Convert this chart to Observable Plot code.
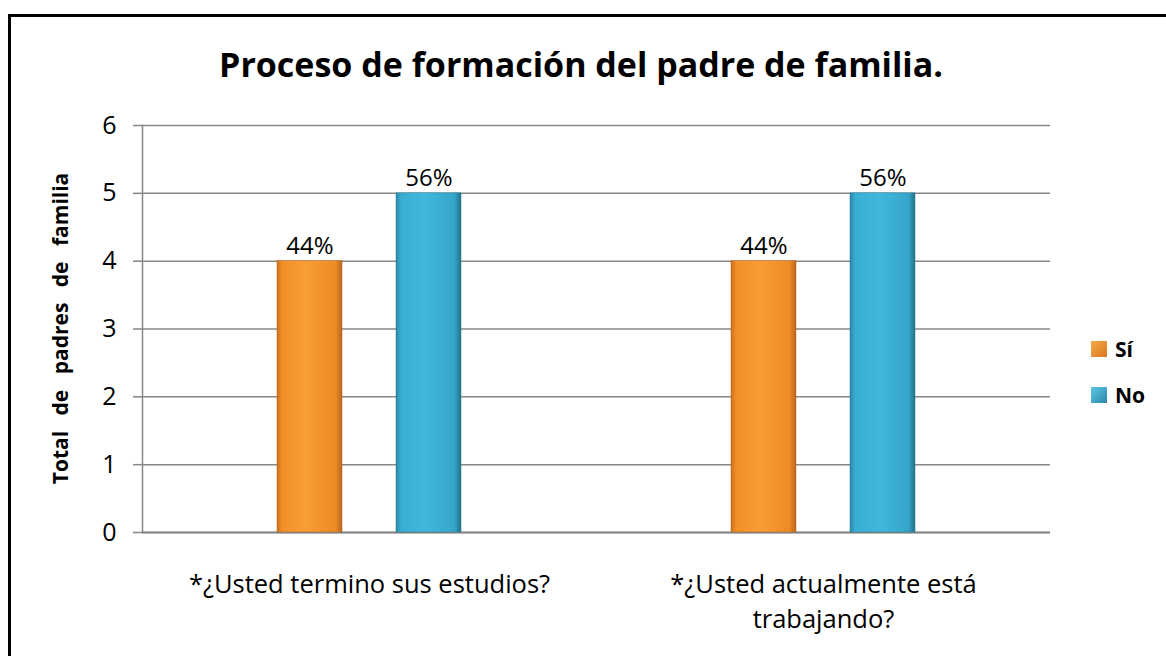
<!DOCTYPE html>
<html>
<head>
<meta charset="utf-8">
<script src="https://cdn.jsdelivr.net/npm/d3@7"></script>
<script src="https://cdn.jsdelivr.net/npm/@observablehq/plot@0.6"></script>
<style>
  html, body { margin: 0; padding: 0; background: #fff; overflow: hidden; }
  body { width: 1166px; height: 656px; position: relative; font-family: "Open Sans", sans-serif; }
  #frame { position: absolute; left: 8px; top: 14px; width: 1200px; height: 700px; border: 3px solid #000; box-sizing: border-box; }
  #title { position: absolute; left: 0; width: 1162px; top: 41px; text-align: center; font-weight: bold; font-size: 34px; color: #000; line-height: normal; white-space: nowrap; }
  #chart { position: absolute; left: 0; top: 100px; }
  #legend { position: absolute; left: 1091px; top: 338px; font-weight: bold; font-size: 21px; color: #000; }
  .li { display: flex; align-items: center; height: 22px; margin-bottom: 24px; }
  .sw { width: 16px; height: 16px; margin-right: 8px; }
</style>
</head>
<body>
<div id="frame"></div>
<div id="title">Proceso de formación del padre de familia.</div>
<div id="chart"></div>
<div id="legend"></div>
<script>
const categories = ["*¿Usted termino sus estudios?", "*¿Usted actualmente está\ntrabajando?"];
const seriesNames = ["Sí", "No"];
const siValues = [4, 4];
const noValues = [5, 5];
const siLabels = ["44%", "44%"];
const noLabels = ["56%", "56%"];
const yTicks = [0, 1, 2, 3, 4, 5, 6];
const yTitle = "Total de padres de familia";
const seriesFills = {"Sí": "url(#gradO)", "No": "url(#gradB)"};

const data = [];
categories.forEach((c, i) => {
  data.push({cat: c, series: "Sí", value: siValues[i], label: siLabels[i]});
  data.push({cat: c, series: "No", value: noValues[i], label: noLabels[i]});
});

const FONT = "'Open Sans', sans-serif";

const chart = Plot.plot({
  width: 1166,
  height: 556,
  marginTop: 25,
  marginBottom: 124,
  marginLeft: 142,
  marginRight: 116,
  style: {fontFamily: FONT, color: "#000", background: "transparent"},
  fx: {domain: categories, padding: 0, label: null},
  x: {domain: seriesNames, paddingInner: 0.45, paddingOuter: 1.117, axis: null},
  y: {domain: [0, 6], label: null},
  marks: [
    Plot.gridY(yTicks, {stroke: "#878787", strokeOpacity: 1, strokeWidth: 1.5}),
    Plot.frame({anchor: "left", facetAnchor: "left", stroke: "#878787", strokeWidth: 1.5}),
    Plot.ruleY([0], {stroke: "#878787", strokeWidth: 2}),
    Plot.axisY({ticks: yTicks, tickFormat: "d", tickSize: 9, tickPadding: 17, fontSize: 25, stroke: "#878787", strokeWidth: 1.5, label: null}),
    Plot.axisFx({anchor: "bottom", tickSize: 0, tickPadding: 35, fontSize: 25.5, lineHeight: 1.38, label: null}),
    Plot.barY(data.filter(d => d.series === "Sí"), {fx: "cat", x: "series", y: "value", fill: seriesFills["Sí"], stroke: "#b5651d", strokeWidth: 0.5}),
    Plot.barY(data.filter(d => d.series === "No"), {fx: "cat", x: "series", y: "value", fill: seriesFills["No"], stroke: "#277d99", strokeWidth: 0.5}),
    Plot.text(data, {fx: "cat", x: "series", y: "value", text: "label", dy: -15, fontSize: 24, fill: "#000"})
  ]
});

// gradients for bevelled bars
const svg = d3.select(chart.tagName.toLowerCase() === "svg" ? chart : chart.querySelector("svg"));
const defs = svg.insert("defs", ":first-child");
function grad(id, stops) {
  const g = defs.append("linearGradient").attr("id", id).attr("x1", "0").attr("x2", "1").attr("y1", "0").attr("y2", "0");
  stops.forEach(([o, c]) => g.append("stop").attr("offset", o).attr("stop-color", c));
}
grad("gradO", [[0, "#c96f1e"], [0.08, "#f28f27"], [0.45, "#f89d35"], [0.9, "#ee8a25"], [1, "#b9661c"]]);
grad("gradB", [[0, "#2b87a6"], [0.08, "#3aaed2"], [0.45, "#40b7dc"], [0.9, "#35a6ca"], [1, "#256f88"]]);

// y-axis title
svg.append("text")
  .attr("transform", `translate(62, ${25 + (432 - 25) / 2}) rotate(-90)`)
  .attr("text-anchor", "middle").attr("dominant-baseline", "middle")
  .attr("font-weight", "bold").attr("font-size", 21).attr("word-spacing", 10)
  .attr("font-family", FONT)
  .text(yTitle);

document.getElementById("chart").appendChild(chart);

// legend
const legend = d3.select("#legend");
seriesNames.forEach(s => {
  const row = legend.append("div").attr("class", "li");
  row.append("div").attr("class", "sw").style("background", s === "Sí" ? "linear-gradient(135deg,#f6a94a,#d9771f)" : "linear-gradient(135deg,#5cc8e6,#2b87a6)");
  row.append("span").text(s);
});
</script>
</body>
</html>
